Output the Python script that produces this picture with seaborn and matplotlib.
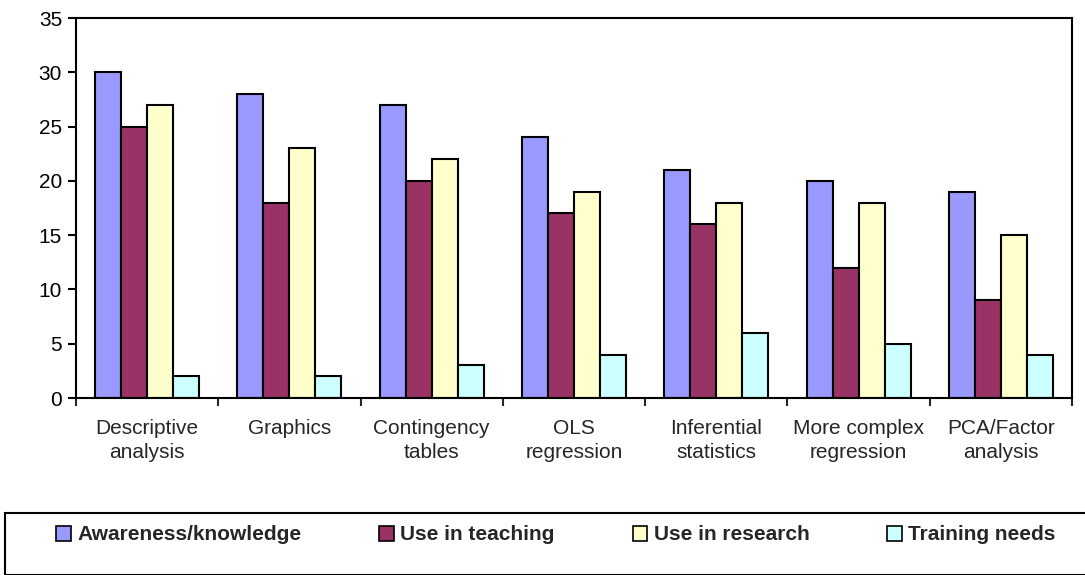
import matplotlib
matplotlib.use("Agg")
import matplotlib.pyplot as plt
import seaborn as sns
import pandas as pd
from matplotlib.patches import Rectangle, Patch

categories = ["Descriptive\nanalysis", "Graphics", "Contingency\ntables", "OLS\nregression",
              "Inferential\nstatistics", "More complex\nregression", "PCA/Factor\nanalysis"]
series_names = ["Awareness/knowledge", "Use in teaching", "Use in research", "Training needs"]
awareness = [30, 28, 27, 24, 21, 20, 19]
teaching = [25, 18, 20, 17, 16, 12, 9]
research = [27, 23, 22, 19, 18, 18, 15]
training = [2, 2, 3, 4, 6, 5, 4]
colors = ["#9999FF", "#993366", "#FFFFCC", "#CCFFFF"]

rows = []
for name, vals in zip(series_names, [awareness, teaching, research, training]):
    for c, v in zip(categories, vals):
        rows.append({"category": c, "series": name, "value": v})
df = pd.DataFrame(rows)

sns.set_style("white")
plt.rcParams["font.family"] = ["Liberation Sans", "DejaVu Sans"]

fig = plt.figure(figsize=(10.85, 5.75), dpi=100)
ax = fig.add_axes([76/1085, 1 - 398/575, (1072-76)/1085, (398-18)/575])

sns.barplot(data=df, x="category", y="value", hue="series", order=categories,
            hue_order=series_names, palette=colors, width=0.73, gap=0,
            edgecolor="black", linewidth=1.5, saturation=1, ax=ax, legend=False)

ax.set_xlim(-0.5, 6.5)
ax.set_ylim(0, 35)
ax.set_yticks(range(0, 36, 5))
ax.set_xlabel("")
ax.set_ylabel("")
ax.tick_params(axis="y", labelsize=15, length=6, width=1.5, direction="out", left=True, pad=4, colors="black")
ax.set_xticks([i for i in range(7)])
ax.set_xticklabels(categories, fontsize=15, linespacing=1.32)
ax.tick_params(axis="x", length=0, pad=15)
ax.set_xticks([i - 0.5 for i in range(8)], minor=True)
ax.tick_params(axis="x", which="minor", length=6, width=1.5, direction="out", bottom=True)
for s in ax.spines.values():
    s.set_visible(True)
    s.set_color("black")
    s.set_linewidth(1.5)

# legend box
fig.patches.append(Rectangle((5/1085, 0), 1.1, (575-513)/575, transform=fig.transFigure,
                             fill=False, edgecolor="black", linewidth=1.5))
handles = [Patch(facecolor=c, edgecolor="black", linewidth=1.2) for c in colors]
fig.legend(handles, series_names, loc="center", bbox_to_anchor=(556/1085, 1 - 535/575),
           ncol=4, frameon=False, handlelength=0.7, handleheight=0.7, handletextpad=0.3,
           columnspacing=3.75, prop={"weight": "bold", "size": 15})

fig.savefig("out.png", dpi=100)
